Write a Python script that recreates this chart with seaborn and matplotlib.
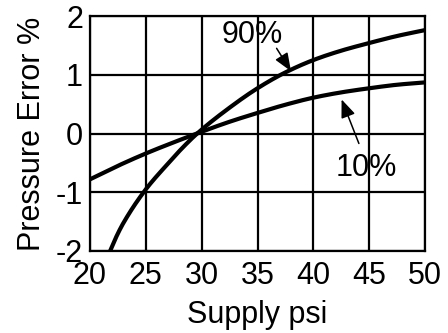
import matplotlib
matplotlib.use("Agg")
import matplotlib.pyplot as plt
import numpy as np
import pandas as pd
import seaborn as sns

# Supply pressure (psi) and pressure error (%) at 90% and 10% output
supply_90 = [21.8, 22.4, 23.0, 25, 26.85, 28.3, 29.6, 32.5, 35, 37.5, 40, 42.5, 45, 47.5, 50]
error_90 = [-2.0, -1.74, -1.52, -0.95, -0.54, -0.24, 0.0, 0.44, 0.77, 1.04, 1.25, 1.41, 1.54, 1.66, 1.76]
supply_10 = [20, 22.5, 25, 27.5, 30, 32.5, 35, 37.5, 40, 42.5, 45, 47.5, 50]
error_10 = [-0.78, -0.55, -0.34, -0.15, 0.03, 0.20, 0.35, 0.49, 0.61, 0.70, 0.77, 0.83, 0.87]

x_ticks = [20, 25, 30, 35, 40, 45, 50]
y_ticks = [-2, -1, 0, 1, 2]


def pchip(x, y, xs):
    """Monotone cubic (Fritsch-Carlson) curve through the given points."""
    x = np.asarray(x, float)
    y = np.asarray(y, float)
    h = np.diff(x)
    d = np.diff(y) / h
    m = np.zeros_like(y)
    for i in range(1, len(x) - 1):
        if d[i - 1] * d[i] > 0:
            w1 = 2 * h[i] + h[i - 1]
            w2 = h[i] + 2 * h[i - 1]
            m[i] = (w1 + w2) / (w1 / d[i - 1] + w2 / d[i])
    m[0] = d[0]
    m[-1] = d[-1]
    idx = np.clip(np.searchsorted(x, xs) - 1, 0, len(x) - 2)
    t = (xs - x[idx]) / h[idx]
    h00 = 2 * t**3 - 3 * t**2 + 1
    h10 = t**3 - 2 * t**2 + t
    h01 = -2 * t**3 + 3 * t**2
    h11 = t**3 - t**2
    return (h00 * y[idx] + h10 * h[idx] * m[idx]
            + h01 * y[idx + 1] + h11 * h[idx] * m[idx + 1])


curves = []
for name, sx, sy in [("90%", supply_90, error_90), ("10%", supply_10, error_10)]:
    xs = np.linspace(sx[0], sx[-1], 300)
    curves.append(pd.DataFrame({"supply": xs, "error": pchip(sx, sy, xs),
                                "series": name}))
df = pd.concat(curves)

sns.set_style("white")
plt.rcParams["font.family"] = ["Liberation Sans", "DejaVu Sans"]

fig = plt.figure(figsize=(4.48, 3.33), dpi=100)
ax = fig.add_axes([90 / 448, 1 - 251 / 333, 335 / 448, 235 / 333])

sns.lineplot(data=df, x="supply", y="error", hue="series",
             palette={"90%": "black", "10%": "black"}, linewidth=3,
             legend=False, ax=ax, sort=False, zorder=3)

ax.set_xlim(20, 50)
ax.set_ylim(-2, 2)
ax.set_xticks(x_ticks)
ax.set_yticks(y_ticks)
ax.set_xticklabels([str(v) for v in x_ticks])
ax.set_yticklabels([str(v) for v in y_ticks])
ax.grid(True, color="black", linewidth=1.6)
ax.set_axisbelow(True)
for s in ax.spines.values():
    s.set_visible(True)
    s.set_color("black")
    s.set_linewidth(1.6)
ax.tick_params(axis="both", length=0, labelsize=22, colors="black")
ax.tick_params(axis="x", pad=7)
ax.tick_params(axis="y", pad=5)
ax.set_xlabel("Supply psi", fontsize=22, labelpad=7, color="black")
ax.set_ylabel("Pressure Error %", fontsize=22, labelpad=6, color="black")

# series labels with pointer arrows
ax.text(34.55, 1.68, "90%", fontsize=22, ha="center", va="center", color="black")
ax.text(44.77, -0.59, "10%", fontsize=22, ha="center", va="center", color="black")
arrow = dict(arrowstyle="-|>,head_length=0.55,head_width=0.22",
             color="black", lw=1.1, shrinkA=0, shrinkB=0, mutation_scale=20)
ax.annotate("", xy=(38.0, 1.06), xytext=(36.71, 1.45), arrowprops=arrow)
ax.annotate("", xy=(42.53, 0.58), xytext=(44.08, -0.17), arrowprops=arrow)

fig.savefig("out.png", dpi=100)
